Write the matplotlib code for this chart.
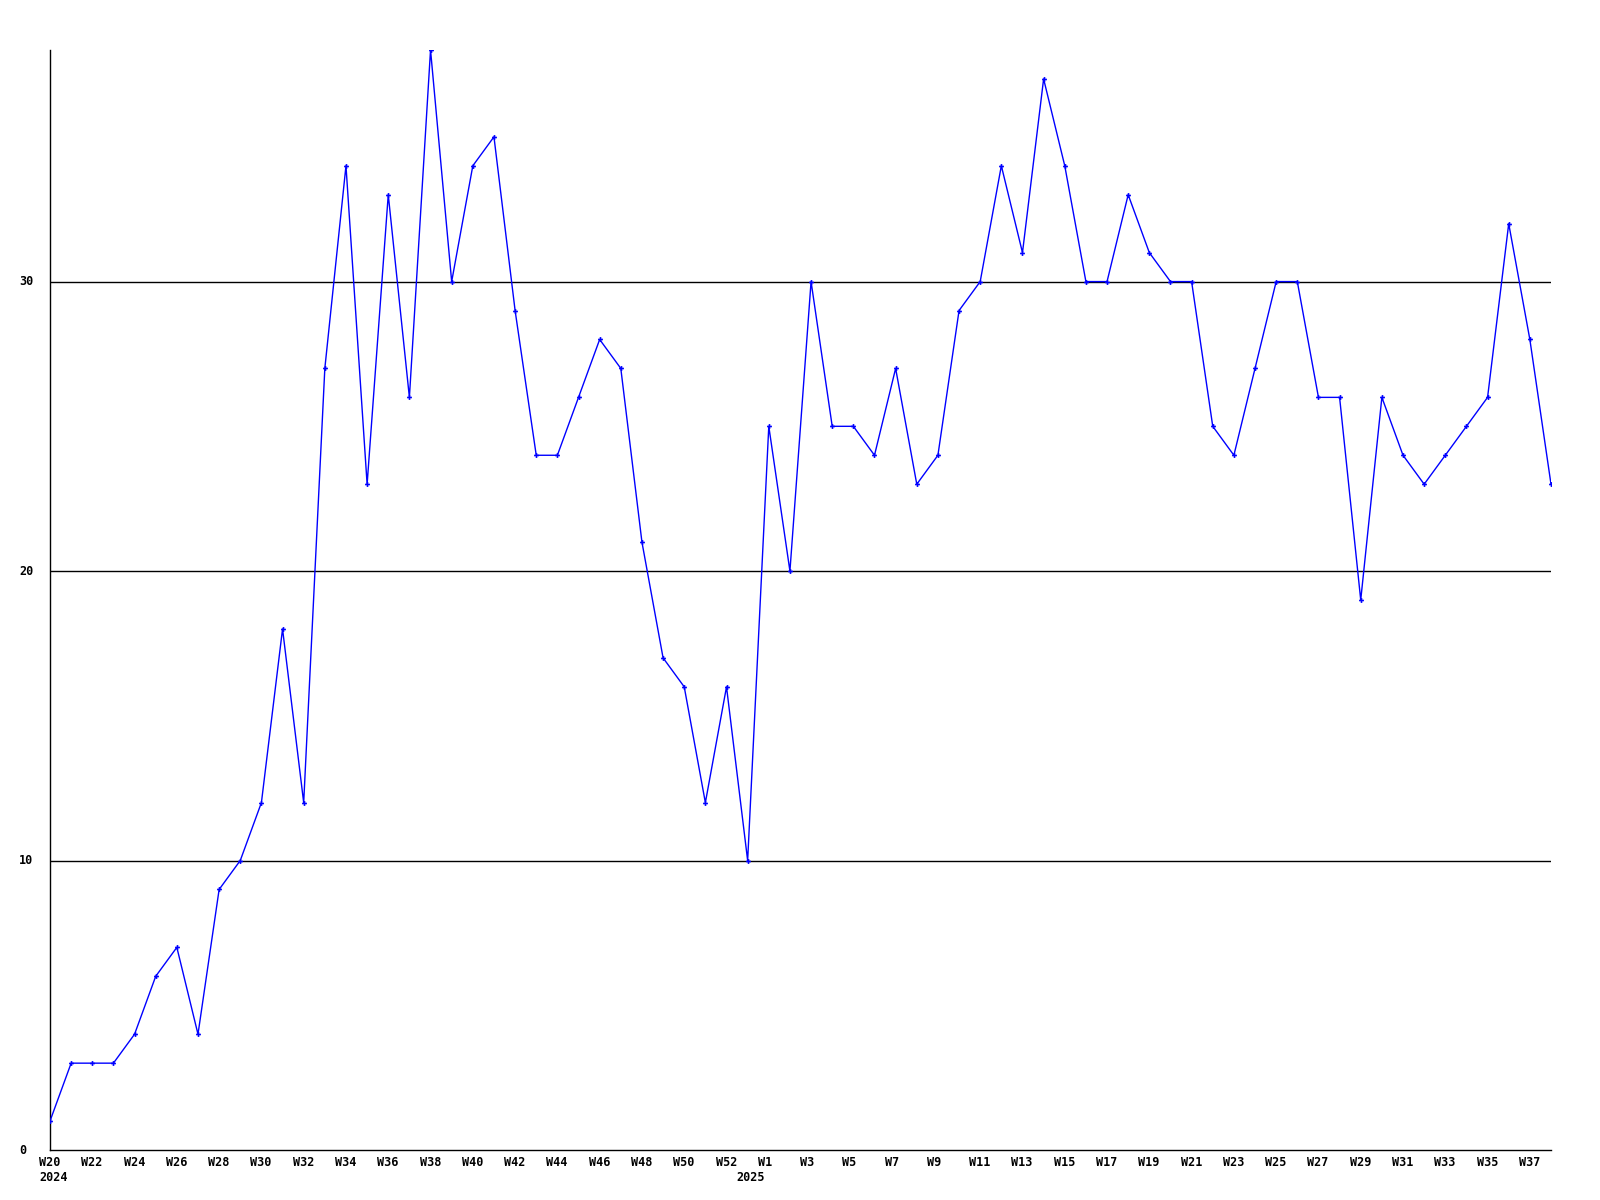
import matplotlib
matplotlib.use("Agg")
import matplotlib.pyplot as plt
from matplotlib.transforms import offset_copy

weeks = (["W%d" % w for w in range(20, 54)] + ["W%d" % w for w in range(1, 39)])
values = [1, 3, 3, 3, 4, 6, 7, 4, 9, 10, 12, 18, 12, 27, 34, 23, 33, 26, 38, 30,
          34, 35, 29, 24, 24, 26, 28, 27, 21, 17, 16, 12, 16, 10,
          25, 20, 30, 25, 25, 24, 27, 23, 24, 29, 30, 34, 31, 37, 34, 30, 30, 33, 31, 30,
          30, 25, 24, 27, 30, 30, 26, 26, 19, 26, 24, 23, 24, 25, 26, 32, 28, 23]
tick_idx = list(range(0, 33, 2)) + list(range(34, 72, 2))
tick_labels = [weeks[i] for i in tick_idx]
year_idx = [0, 33]
year_labels = ["2024", "2025"]
y_ticks = [0, 10, 20, 30]

W, H = 1600, 1200
fig = plt.figure(figsize=(16, 12), dpi=100)
ax = fig.add_axes([50 / W, 50 / H, 1501 / W, 1100 / H])
x = list(range(len(values)))
ax.set_xlim(0, len(values) - 1)
ax.set_ylim(0, 38)

for yv in y_ticks[1:]:
    ax.axhline(yv, color="black", lw=1.0, zorder=1)

ax.plot(x, values, color="#0000ff", lw=1.0, marker="P", ms=3.5, mew=0, zorder=3)

for s in ["top", "right"]:
    ax.spines[s].set_visible(False)
for s in ["left", "bottom"]:
    ax.spines[s].set_color("black")
    ax.spines[s].set_linewidth(1.0)

ax.set_xticks([])
ax.set_yticks([])

font = dict(family="DejaVu Sans Mono", fontweight="bold", fontsize=8.5)
for i, lab in zip(tick_idx, tick_labels):
    tr = offset_copy(ax.transData, fig=fig, x=-11, y=-6, units="dots")
    ax.text(i, 0, lab, transform=tr, ha="left", va="top", **font)
for i, lab in zip(year_idx, year_labels):
    tr = offset_copy(ax.transData, fig=fig, x=-11, y=-21, units="dots")
    ax.text(i, 0, lab, transform=tr, ha="left", va="top", **font)
for yv in y_ticks:
    tr = offset_copy(ax.transData, fig=fig, x=-31, y=0, units="dots")
    ax.text(0, yv, str(yv), transform=tr, ha="left", va="center", **font)

fig.savefig("out.png", dpi=100, facecolor="white")
